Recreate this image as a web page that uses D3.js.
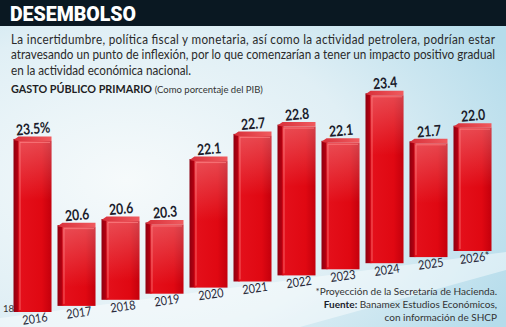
<!DOCTYPE html>
<html>
<head>
<meta charset="utf-8">
<script src="https://cdn.jsdelivr.net/npm/d3@7"></script>
<style>
  html, body { margin: 0; padding: 0; background: #fff; }
  svg { display: block; font-family: Lato, "Open Sans", sans-serif; }
</style>
</head>
<body>
<svg id="chart" width="506" height="327"></svg>
<script>
// data
const years = ["2016", "2017", "2018", "2019", "2020", "2021", "2022", "2023", "2024", "2025", "2026*"];
const values = [23.5, 20.6, 20.6, 20.3, 22.1, 22.7, 22.8, 22.1, 23.4, 21.7, 22.0];
const axisMin = 18;
const title = "DESEMBOLSO";
const intro = [
  "La incertidumbre, política fiscal y monetaria, así como la actividad petrolera, podrían estar",
  "atravesando un punto de inflexión, por lo que comenzarían a tener un impacto positivo gradual",
  "en la actividad económica nacional."
];
const notes = [
  ["", "*Proyección de la Secretaría de Hacienda."],
  ["Fuente: ", "Banamex Estudios Económicos,"],
  ["", "con información de SHCP"]
];

const width = 506, height = 327;
const svg = d3.select("#chart");
const defs = svg.append("defs");

// background
const bg = defs.append("radialGradient").attr("id", "bg")
    .attr("cx", "25%").attr("cy", "55%").attr("r", "85%");
bg.append("stop").attr("offset", "0%").attr("stop-color", "#f6fafb");
bg.append("stop").attr("offset", "55%").attr("stop-color", "#e0eff5");
bg.append("stop").attr("offset", "100%").attr("stop-color", "#b5dceb");
svg.append("rect").attr("width", width).attr("height", height).attr("fill", "url(#bg)");

// header
svg.append("rect").attr("width", width).attr("height", 26).attr("fill", "#0a1822");
svg.append("text")
    .attr("x", 10).attr("y", 20.5)
    .attr("fill", "#fff")
    .attr("font-family", "Roboto, sans-serif")
    .attr("font-weight", 900)
    .attr("font-size", 19.5)
    .text(title);

// intro text: a touch narrower than Lato, so squeeze horizontally
const introText = svg.append("g").attr("fill", "#2a2a2a");
const introLines = introText.selectAll("text")
  .data(intro)
  .join("text")
    .attr("x", 0)
    .attr("y", (d, i) => 44 + i * 15.5)
    .attr("font-size", 13)
    .text(d => d);
const longest = d3.max(introLines.nodes().slice(0, 2), n => n.getComputedTextLength());
const sx = 484 / longest;
introText.attr("transform", `translate(11,0) scale(${sx},1)`);
introLines.filter((d, i) => i < 2).attr("textLength", longest).attr("lengthAdjust", "spacing");

// subtitle
const sub = svg.append("text").attr("x", 11).attr("y", 93).attr("fill", "#1e1e24");
sub.append("tspan").attr("font-weight", 700).attr("font-size", 10.8).text("GASTO PÚBLICO PRIMARIO ");
sub.append("tspan").attr("font-size", 9.5).attr("fill", "#333").text("(Como porcentaje del PIB)");

// scales
const x = d3.scaleBand().domain(years).range([13.5, 491.5]).paddingInner(0.136);
const bw = x.bandwidth();
const h = d3.scaleLinear().domain([axisMin, 24]).range([0, 191]);
const base = d3.scaleLinear()
    .domain([x(years[0]) + bw / 2, x(years[years.length - 1]) + bw / 2])
    .range([312, 251]);

const bars = years.map((y, i) => {
  const cx = x(y) + bw / 2;
  const b = base(cx);
  return { year: y, value: values[i], x: x(y), cx: cx, bottom: b, top: b - h(values[i]) };
});

// gradients for bars
const front = defs.append("linearGradient").attr("id", "front").attr("x1", 0).attr("x2", 1);
front.append("stop").attr("offset", "0%").attr("stop-color", "#e4101b");
front.append("stop").attr("offset", "70%").attr("stop-color", "#e00812");
front.append("stop").attr("offset", "100%").attr("stop-color", "#c4000c");
const side = defs.append("linearGradient").attr("id", "side").attr("x1", 0).attr("x2", 1);
side.append("stop").attr("offset", "0%").attr("stop-color", "#8e0010");
side.append("stop").attr("offset", "100%").attr("stop-color", "#c30010");
const topG = defs.append("linearGradient").attr("id", "topface").attr("x1", 0).attr("x2", 1);
topG.append("stop").attr("offset", "0%").attr("stop-color", "#d8303a");
topG.append("stop").attr("offset", "100%").attr("stop-color", "#f05a5e");
const shine = defs.append("linearGradient").attr("id", "shine").attr("x1", 0).attr("x2", 0).attr("y1", 0).attr("y2", 1);
shine.append("stop").attr("offset", "0%").attr("stop-color", "#fff").attr("stop-opacity", 0.25);
shine.append("stop").attr("offset", "100%").attr("stop-color", "#fff").attr("stop-opacity", 0);

// soft light floor under bars
svg.append("path")
    .attr("d", d3.line()([[0, 327], [0, 318], [506, 252], [506, 270], [300, 327]]))
    .attr("fill", "#ffffff").attr("opacity", 0.45);

const sideW = 5, topH = 4;
const g = svg.append("g");
const bar = g.selectAll("g.bar").data(bars).join("g").attr("class", "bar");

bar.append("rect")
    .attr("x", d => d.x).attr("y", d => d.top + topH / 2)
    .attr("width", sideW + 1).attr("height", d => d.bottom - d.top - topH / 2)
    .attr("fill", "url(#side)");
bar.append("rect")
    .attr("x", d => d.x + sideW).attr("y", d => d.top + topH)
    .attr("width", bw - sideW).attr("height", d => d.bottom - d.top - topH)
    .attr("fill", "url(#front)");
bar.append("rect")
    .attr("x", d => d.x + sideW).attr("y", d => d.top + topH)
    .attr("width", bw - sideW).attr("height", d => Math.min(60, d.bottom - d.top - topH))
    .attr("fill", "url(#shine)");
bar.append("path")
    .attr("d", d => d3.line()([[d.x + sideW + 1.5, d.bottom - 2], [d.x + sideW + 1.5, d.top + topH + 1.5], [d.x + bw - 1.5, d.top + topH + 1.5]]))
    .attr("fill", "none").attr("stroke", "#ff8c8c").attr("stroke-width", 0.8).attr("opacity", 0.8);
bar.append("path")
    .attr("d", d => d3.line()([[d.x, d.top + topH / 2 + 1], [d.x + sideW, d.top - 0.5], [d.x + bw, d.top - 0.5], [d.x + bw, d.top + topH], [d.x + sideW, d.top + topH]]) + "Z")
    .attr("fill", "url(#topface)");

// value labels
g.selectAll("text.val").data(bars).join("text")
    .attr("class", "val")
    .attr("transform", d => `translate(${d.cx + 1},${d.top - 3}) rotate(-5) scale(0.82,1)`)
    .attr("text-anchor", "middle")
    .attr("font-weight", 700)
    .attr("font-size", 15)
    .attr("fill", "#1b1d2c")
    .text((d, i) => i === 0 ? d3.format(".1f")(d.value) + "%" : d3.format(".1f")(d.value));

// year labels
g.selectAll("text.yr").data(bars).join("text")
    .attr("class", "yr")
    .attr("transform", d => `translate(${d.cx + 3},${d.bottom + 11}) rotate(-8) scale(0.88,1)`)
    .attr("text-anchor", "middle")
    .attr("font-size", 12.5)
    .attr("fill", "#2a2a3a")
    .text(d => d.year);

// axis origin label
svg.append("text")
    .attr("x", 3).attr("y", base(x(years[0]) + bw / 2))
    .attr("font-size", 9.5).attr("fill", "#333")
    .text(axisMin);

// notes
const nt = svg.append("g").attr("font-size", 10).attr("fill", "#333").attr("text-anchor", "end");
notes.forEach((n, i) => {
  const t = nt.append("text").attr("x", 497).attr("y", 295 + i * 13);
  if (n[0]) t.append("tspan").attr("font-weight", 700).attr("fill", "#1b1d2c").text(n[0]);
  t.append("tspan").text(n[1]);
});
</script>
</body>
</html>
